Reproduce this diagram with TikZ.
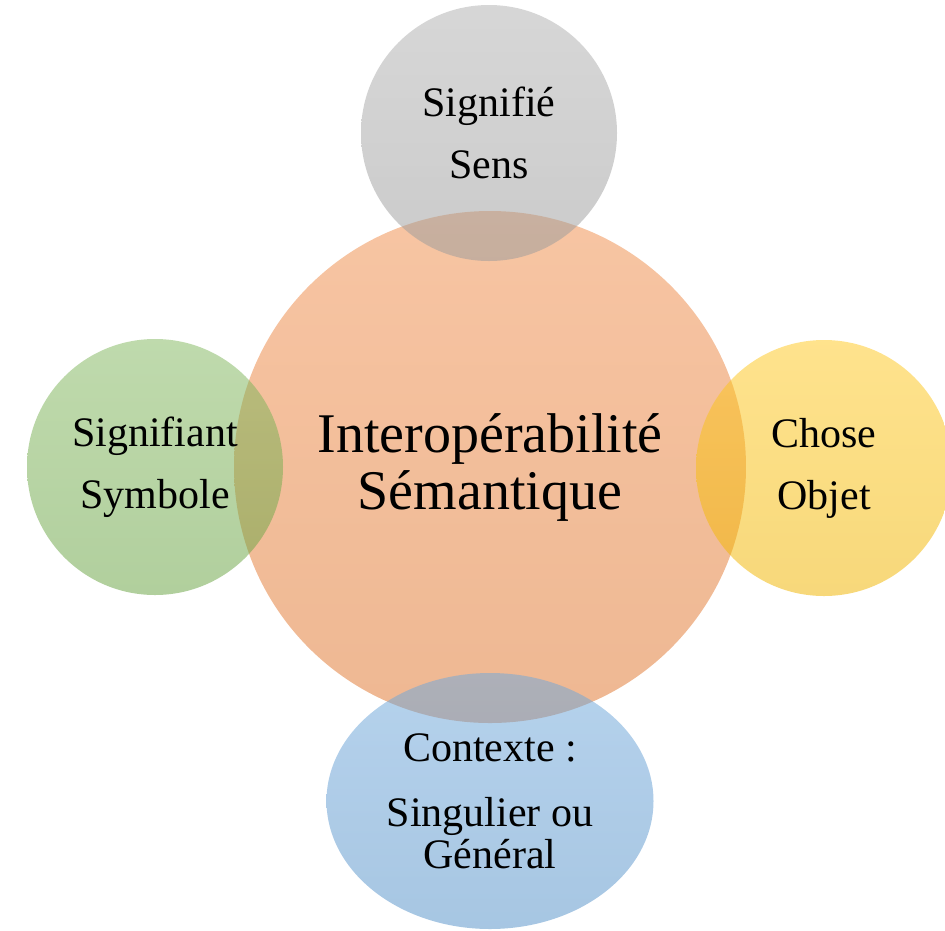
\documentclass[tikz,border=0pt]{standalone}
\usepackage{fontspec}
\setmainfont{Liberation Serif}
\usetikzlibrary{shapes.geometric}
\definecolor{orangebase}{HTML}{ED7D31}
\definecolor{graybase}{HTML}{A5A5A5}
\definecolor{greenbase}{HTML}{70AD47}
\definecolor{yellowbase}{HTML}{FFC000}
\definecolor{bluebase}{HTML}{5B9BD5}
\tikzset{
    every node/.style = {
        inner sep = 0pt,
        outer sep = 0pt
    },
    bubble/.style = {
        circle,
        align = center,
        fill opacity = 0.52,
        text opacity = 1,
        top color = #1!86!white,
        bottom color = #1!94!black,
        font = \fontsize{42}{62}\selectfont
    },
    core/.style = {
        bubble = #1,
        font = \fontsize{56}{57}\selectfont
    },
    egg/.style = {
        bubble = #1,
        ellipse,
        font = \fontsize{42}{42}\selectfont
    }
}
\begin{document}
\begin{tikzpicture}[x=1pt,y=-1pt]
    \useasboundingbox (0,0) rectangle (945,930);
    \clip (0,0) rectangle (945,930);
    % centre
    \node (interop) at (490,467) [core=orangebase, minimum size=512pt]
        {Interopérabilité\\Sémantique};
    % satellites
    \node (signifie) at (489,133) [bubble=graybase, minimum size=256pt]
        {Signifié\\Sens};
    \node (signifiant) at (155,467) [bubble=greenbase, minimum size=256pt]
        {Signifiant\\Symbole};
    \node (chose) at (824,468) [bubble=yellowbase, minimum size=256pt]
        {Chose\\Objet};
    \node (contexte) at (490,801) [egg=bluebase, minimum width=327pt, minimum height=256pt]
        {Contexte :\\[23pt]Singulier ou\\Général};
\end{tikzpicture}
\end{document}
